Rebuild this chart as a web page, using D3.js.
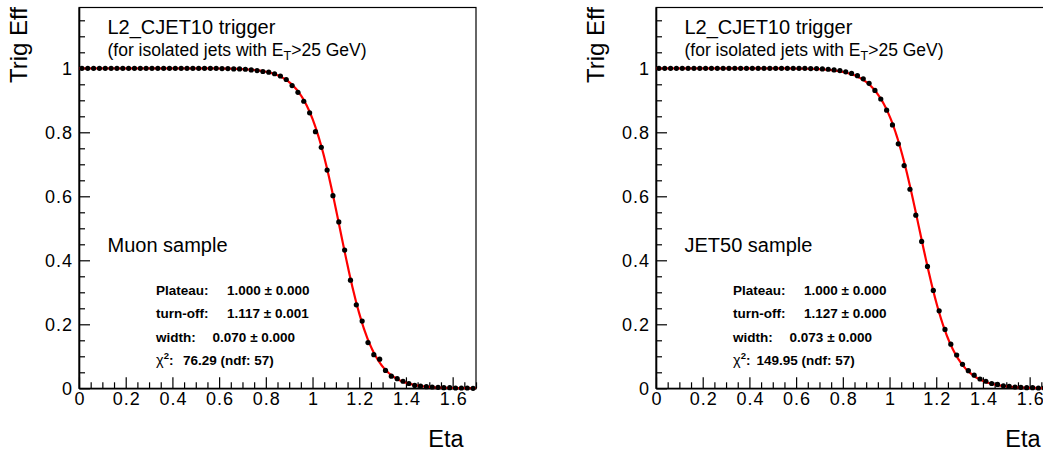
<!DOCTYPE html>
<html>
<head>
<meta charset="utf-8">
<script src="https://cdn.jsdelivr.net/npm/d3@7"></script>
<style>
  body { margin: 0; background: #fff; }
  svg { display: block; font-family: "Liberation Sans", Arial, sans-serif; }
</style>
</head>
<body>
<script>
// bin centres in eta (0.025 wide bins, 0 - 1.7)
const etaBins = [
  0.0125, 0.0375, 0.0625, 0.0875, 0.1125, 0.1375, 0.1625, 0.1875, 0.2125, 0.2375,
  0.2625, 0.2875, 0.3125, 0.3375, 0.3625, 0.3875, 0.4125, 0.4375, 0.4625, 0.4875,
  0.5125, 0.5375, 0.5625, 0.5875, 0.6125, 0.6375, 0.6625, 0.6875, 0.7125, 0.7375,
  0.7625, 0.7875, 0.8125, 0.8375, 0.8625, 0.8875, 0.9125, 0.9375, 0.9625, 0.9875,
  1.0125, 1.0375, 1.0625, 1.0875, 1.1125, 1.1375, 1.1625, 1.1875, 1.2125, 1.2375,
  1.2625, 1.2875, 1.3125, 1.3375, 1.3625, 1.3875, 1.4125, 1.4375, 1.4625, 1.4875,
  1.5125, 1.5375, 1.5625, 1.5875, 1.6125, 1.6375, 1.6625, 1.6875
];

const effMuon = [
  1.000, 1.000, 1.000, 1.000, 1.000, 1.000, 1.000, 1.000, 1.000, 1.000,
  1.000, 1.000, 1.000, 1.000, 1.000, 1.000, 1.000, 1.000, 1.000, 1.000,
  1.000, 1.000, 1.000, 1.000, 0.999, 0.999, 0.998, 0.998, 0.997, 0.995,
  0.993, 0.990, 0.988, 0.983, 0.976, 0.965, 0.946, 0.925, 0.897, 0.861,
  0.802, 0.753, 0.682, 0.602, 0.520, 0.432, 0.338, 0.261, 0.210, 0.143,
  0.105, 0.091, 0.056, 0.038, 0.030, 0.022, 0.015, 0.009, 0.007, 0.005,
  0.004, 0.003, 0.002, 0.002, 0.001, 0.001, 0.001, 0.000
];

const effJet50 = [
  1.000, 1.000, 1.000, 1.000, 1.000, 1.000, 1.000, 1.000, 1.000, 1.000,
  1.000, 1.000, 1.000, 1.000, 1.000, 1.000, 1.000, 1.000, 1.000, 1.000,
  1.000, 1.000, 1.000, 1.000, 1.000, 1.000, 0.999, 0.999, 0.998, 0.997,
  0.995, 0.993, 0.989, 0.984, 0.977, 0.967, 0.953, 0.931, 0.904, 0.869,
  0.823, 0.764, 0.696, 0.622, 0.541, 0.459, 0.381, 0.306, 0.242, 0.184,
  0.138, 0.104, 0.075, 0.055, 0.041, 0.029, 0.022, 0.015, 0.012, 0.008,
  0.006, 0.004, 0.003, 0.002, 0.002, 0.001, 0.001, 0.001
];

// fit results shown in the stat boxes
const sampleNames = ["Muon sample", "JET50 sample"];
const fitPlateau = [1.000, 1.000];
const fitTurnoff = [1.117, 1.127];
const fitWidth = [0.070, 0.073];
const plateauTxt = ["1.000 \u00b1 0.000", "1.000 \u00b1 0.000"];
const turnoffTxt = ["1.117 \u00b1 0.001", "1.127 \u00b1 0.000"];
const widthTxt = ["0.070 \u00b1 0.000", "0.073 \u00b1 0.000"];
const chi2Txt = ["76.29 (ndf: 57)", "149.95 (ndf: 57)"];

const xMajor = [0, 0.2, 0.4, 0.6, 0.8, 1, 1.2, 1.4, 1.6];
const yMajor = [0, 0.2, 0.4, 0.6, 0.8, 1];

const W = 1043, H = 451;
const plotW = 397, plotH = 380.8;
const panelLeft = [79, 656];
const panelTop = 7.5;

const svg = d3.select("body").append("svg")
  .attr("width", W)
  .attr("height", H);

const x = d3.scaleLinear().domain([0, 1.7]).range([0, plotW]);
const y = d3.scaleLinear().domain([0, 1.19]).range([plotH, 0]);

function drawPanel(i, eff) {
  const g = svg.append("g")
    .attr("transform", `translate(${panelLeft[i]},${panelTop})`);

  // frame
  g.append("rect")
    .attr("width", plotW).attr("height", plotH)
    .attr("fill", "none").attr("stroke", "#000").attr("stroke-width", 1.2);

  // minor ticks first, then major ticks with labels
  const xMinor = d3.range(0, 1.71, 0.05).filter(v => !xMajor.some(m => Math.abs(m - v) < 1e-6));
  const yMinor = d3.range(0, 1.19, 0.05).filter(v => !yMajor.some(m => Math.abs(m - v) < 1e-6));

  g.append("g").attr("transform", `translate(0,${plotH})`)
    .call(d3.axisBottom(x).tickValues(xMinor).tickSize(-6).tickFormat(""))
    .call(a => a.select(".domain").remove());
  g.append("g")
    .call(d3.axisLeft(y).tickValues(yMinor).tickSize(-6).tickFormat(""))
    .call(a => a.select(".domain").remove());

  const xa = g.append("g").attr("transform", `translate(0,${plotH})`)
    .call(d3.axisBottom(x).tickValues(xMajor).tickSize(-11).tickSizeOuter(0).tickPadding(4)
      .tickFormat(d => d3.format("~g")(d)));
  const ya = g.append("g")
    .call(d3.axisLeft(y).tickValues(yMajor).tickSize(-11).tickSizeOuter(0).tickPadding(6)
      .tickFormat(d => d3.format("~g")(d)));

  [xa, ya].forEach(a => {
    a.select(".domain").attr("stroke-width", 1.6);
    a.selectAll("text")
      .attr("fill", "#000")
      .style("font-size", "18px")
      .style("letter-spacing", "1px")
      .style("font-family", "'Liberation Sans', Arial, sans-serif");
  });
  ya.selectAll("text").attr("dy", "0.36em");
  xa.selectAll("text").attr("dy", "0.72em").attr("dx", "0.5px");
  g.selectAll(".tick line").attr("stroke", "#000").attr("stroke-width", 1.2);

  // fit curve
  const fit = v => fitPlateau[i] / (1 + Math.exp((v - fitTurnoff[i]) / fitWidth[i]));
  const curveX = d3.range(0, 1.7001, 0.005);
  g.append("path")
    .datum(curveX)
    .attr("fill", "none")
    .attr("stroke", "#ff0000")
    .attr("stroke-width", 2.2)
    .attr("d", d3.line().x(d => x(d)).y(d => y(fit(d))));

  // data points
  g.selectAll(".pt")
    .data(etaBins.map((e, k) => [e, eff[k]]))
    .enter().append("circle")
    .attr("class", "pt")
    .attr("cx", d => x(d[0]))
    .attr("cy", d => y(d[1]))
    .attr("r", 2.6)
    .attr("fill", "#000");

  // axis titles
  g.append("text")
    .attr("transform", "rotate(-90)")
    .attr("x", 0.5).attr("y", -52)
    .attr("text-anchor", "end")
    .style("font-size", "24px")
    .text("Trig Eff");
  g.append("text")
    .attr("x", 384.5).attr("y", 439)
    .attr("text-anchor", "end")
    .style("font-size", "23.5px")
    .text("Eta");

  // labels inside the frame
  g.append("text")
    .attr("x", 28.5).attr("y", 26.8)
    .style("font-size", "20px")
    .text("L2_CJET10 trigger");
  const sub = g.append("text")
    .attr("x", 28.5).attr("y", 48.5)
    .style("font-size", "17.5px");
  sub.append("tspan").text("(for isolated jets with E");
  sub.append("tspan").attr("dy", 4).style("font-size", "12.5px").text("T");
  sub.append("tspan").attr("dy", -4).text(">25 GeV)");

  g.append("text")
    .attr("x", 28.5).attr("y", 244.5)
    .style("font-size", "20px")
    .text(sampleNames[i]);

  const stats = [
    ["Plateau:", plateauTxt[i], 148],
    ["turn-off:", turnoffTxt[i], 148],
    ["width:", widthTxt[i], 133.6]
  ];
  const statFont = "13.5px";
  stats.forEach((s, k) => {
    const ty = 287.5 + k * 23.3;
    g.append("text").attr("x", 77).attr("y", ty)
      .style("font-size", statFont).style("font-weight", "bold").text(s[0]);
    g.append("text").attr("x", s[2]).attr("y", ty)
      .style("font-size", statFont).style("font-weight", "bold")
      .text(s[1]);
  });
  const chi = g.append("text").attr("x", 77).attr("y", 287.5 + 3 * 23.3)
    .style("font-size", statFont).style("font-weight", "bold");
  chi.append("tspan").style("font-weight", "normal").style("font-size", "14.5px").text("\u03c7");
  chi.append("tspan").attr("dy", -6).style("font-size", "9.5px").text("2");
  chi.append("tspan").attr("dy", 6).text(":");
  g.append("text").attr("x", i === 0 ? 104 : 100.5).attr("y", 287.5 + 3 * 23.3)
    .style("font-size", statFont).style("font-weight", "bold")
    .text(chi2Txt[i]);
}

drawPanel(0, effMuon);
drawPanel(1, effJet50);
</script>
</body>
</html>
